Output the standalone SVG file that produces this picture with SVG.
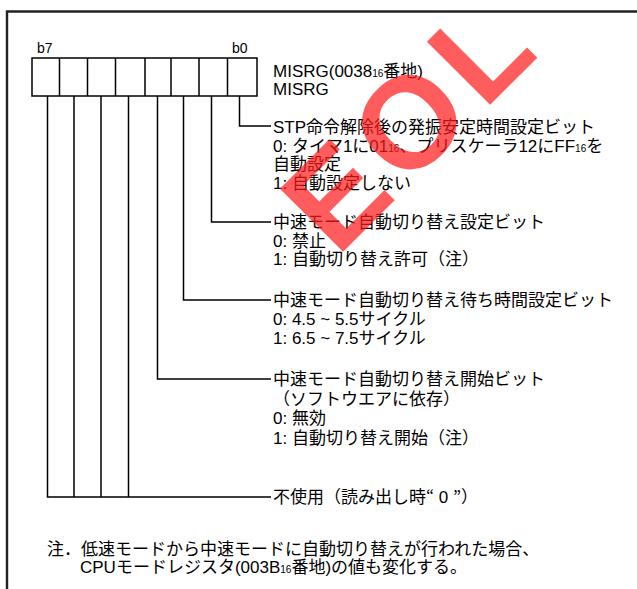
<svg xmlns="http://www.w3.org/2000/svg" width="637" height="589" viewBox="0 0 637 589">
<style>
.t{font-family:"Liberation Sans","Noto Sans CJK JP",sans-serif;font-size:17px;fill:#000}
.s{font-size:10px}
.b{font-family:"Liberation Sans",sans-serif;font-size:14px;fill:#000}
.j{font-family:"Noto Sans CJK JP",sans-serif}
.ln{fill:none;stroke:#000;stroke-width:1.5}
.fr{fill:none;stroke:#222;stroke-width:2.4}
.wm{font-family:"Liberation Sans",sans-serif;font-weight:bold;font-size:130px;letter-spacing:10px;fill:#ff1a1a;opacity:0.7}
</style>
<rect width="637" height="589" fill="#fff"/>
<path class="fr" d="M7,589 V11.5 H637"/>
<g id="register">
<text class="b" x="37" y="53">b7</text>
<text class="b" x="232" y="53">b0</text>
<rect class="ln" x="32" y="58" width="225" height="38"/>
<path class="ln" d="M59.5,58V96M87.5,58V96M115.5,58V96M145,58V96M171,58V96M199,58V96M227.5,58V96"/>
<text class="t" x="273" y="77">MISRG(0038<tspan class="s">16</tspan>番地)</text>
<text class="t" x="273" y="95">MISRG</text>
</g>
<g id="connectors">
<path class="ln" d="M239.5,96V126H271"/>
<path class="ln" d="M211.5,96V222H271"/>
<path class="ln" d="M183.5,96V300H271"/>
<path class="ln" d="M157.5,96V379H271"/>
<path class="ln" d="M128.5,96V497M101,96V497M74,96V497M47.5,96V497H271"/>
</g>
<g id="bit0">
<text class="t" x="273" y="133">STP命令解除後の発振安定時間設定ビット</text>
<text class="t" x="273" y="151.5">0: タイマ1に01<tspan class="s">16</tspan>、プリスケーラ12にFF<tspan class="s">16</tspan>を</text>
<text class="t" x="273" y="170">自動設定</text>
<text class="t" x="273" y="188.5">1: 自動設定しない</text>
</g>
<g id="bit1">
<text class="t" x="273" y="228">中速モード自動切り替え設定ビット</text>
<text class="t" x="273" y="246.5">0: 禁止</text>
<text class="t" x="273" y="265">1: 自動切り替え許可（注）</text>
</g>
<g id="bit2">
<text class="t" x="273" y="306">中速モード自動切り替え待ち時間設定ビット</text>
<text class="t" x="273" y="325">0: 4.5 ~ 5.5サイクル</text>
<text class="t" x="273" y="344">1: 6.5 ~ 7.5サイクル</text>
</g>
<g id="bit3">
<text class="t" x="273" y="385">中速モード自動切り替え開始ビット</text>
<text class="t" x="273" y="404.5">（ソフトウエアに依存）</text>
<text class="t" x="273" y="424">0: 無効</text>
<text class="t" x="273" y="443.5">1: 自動切り替え開始（注）</text>
</g>
<g id="bits7-4">
<text class="t" x="273" y="503">不使用（読み出し時<tspan class="j">“</tspan> 0 <tspan class="j">”</tspan>）</text>
</g>
<g id="note">
<text class="t" x="47" y="555">注．低速モードから中速モードに自動切り替えが行われた場合、</text>
<text class="t" x="80" y="573">CPUモードレジスタ(003B<tspan class="s">16</tspan>番地)の値も変化する。</text>
</g>
<text class="wm" transform="translate(337,258) rotate(-45)">EOL</text>
</svg>
